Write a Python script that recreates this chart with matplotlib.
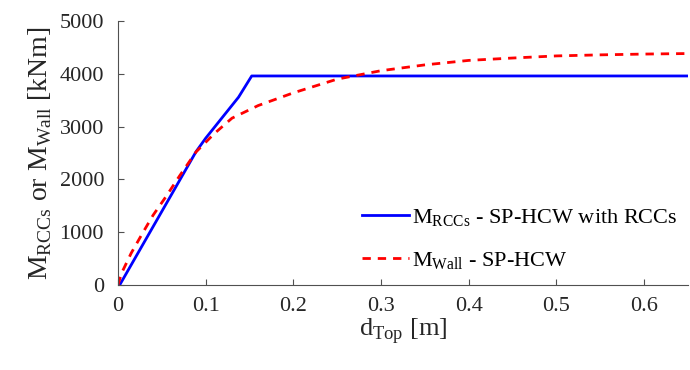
import matplotlib
matplotlib.use("Agg")
import matplotlib.pyplot as plt

plt.rcParams['font.family'] = ['Liberation Serif', 'DejaVu Serif']
plt.rcParams['mathtext.fontset'] = 'custom'
plt.rcParams['mathtext.rm'] = 'Liberation Serif'

# SP-HCW with RCCs (blue solid)
d_rcc = [0.002, 0.089, 0.100, 0.1375, 0.1525, 0.65]
m_rcc = [0, 2525, 2780, 3558, 3960, 3960]

# SP-HCW (red dashed)
d_wall = [0, 0.004, 0.015, 0.028, 0.040, 0.055, 0.070, 0.089, 0.110, 0.130,
          0.160, 0.200, 0.250, 0.300, 0.350, 0.400, 0.450, 0.500, 0.550, 0.600, 0.650]
m_wall = [0, 220, 600, 980, 1320, 1680, 2060, 2520, 2870, 3160,
          3400, 3640, 3900, 4060, 4170, 4255, 4300, 4340, 4360, 4375, 4385]

xticks = [0, 0.1, 0.2, 0.3, 0.4, 0.5, 0.6]
xticklabels = ['0', '0.1', '0.2', '0.3', '0.4', '0.5', '0.6']
yticks = [0, 1000, 2000, 3000, 4000, 5000]

fig = plt.figure(figsize=(6.9, 3.7), dpi=100)
ax = fig.add_axes([0.171, 0.23, 0.826, 0.713])

ax.plot(d_rcc, m_rcc, color='#0000ff', lw=2,
        label=r'M$_{\mathregular{RCCs}}$ - SP-HCW with RCCs')
ax.plot(d_wall, m_wall, color='#ff0000', lw=2, ls=(0, (3, 2.5)),
        label=r'M$_{\mathregular{Wall}}$ - SP-HCW')

ax.set_xlim(0, 0.65)
ax.set_ylim(0, 5000)
ax.set_xticks(xticks)
ax.set_xticklabels(xticklabels)
ax.set_yticks(yticks)

for s in ['top', 'right']:
    ax.spines[s].set_visible(False)
for s in ['left', 'bottom']:
    ax.spines[s].set_color('#505050')
ax.tick_params(direction='in', length=4, colors='#505050', labelsize=16,
               labelcolor='#262626')
ax.tick_params(axis='x', pad=9)
ax.tick_params(axis='y', pad=10)

ax.set_xlabel(r'd$_{\mathregular{Top}}$ [m]', fontsize=19, color='#262626', labelpad=0)
ax.set_ylabel(r'M$_{\mathregular{RCCs}}$ or M$_{\mathregular{Wall}}$ [kNm]', fontsize=20,
              color='#262626', labelpad=4)

ax.legend(loc='lower right', bbox_to_anchor=(1.005, 0.0), frameon=False, fontsize=16,
          handlelength=2.1, handletextpad=0.15, labelspacing=0.95, borderaxespad=0.2)

fig.savefig('out.png', dpi=100)
